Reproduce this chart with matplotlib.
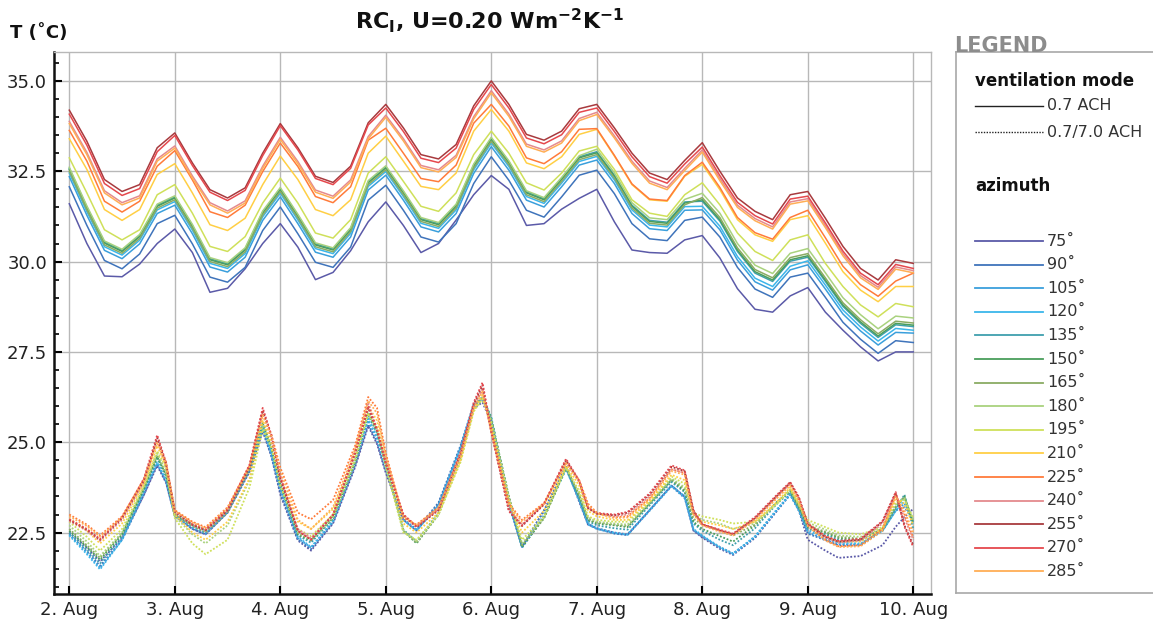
import matplotlib
matplotlib.use('Agg')
import matplotlib.pyplot as plt
from matplotlib.lines import Line2D
from matplotlib.ticker import MultipleLocator, FormatStrFormatter

W, H = 1153, 622

azimuths = [75, 90, 105, 120, 135, 150, 165, 180, 195, 210, 225, 240, 255, 270, 285]
colors = ['#5b5aa8', '#3f74bb', '#3a9fdc', '#3cb6ea', '#3f9fae', '#4a9e5c', '#8aab63',
          '#a9d27e', '#cfe05a', '#ffcf45', '#ff7b3a', '#e48a8e', '#a83a3e', '#e5484d', '#ffae55']
day_labels = ['2. Aug', '3. Aug', '4. Aug', '5. Aug', '6. Aug', '7. Aug', '8. Aug', '9. Aug', '10. Aug']

# hours since 2 Aug 00:00
solid_hours = list(range(0, 193, 4))
dotted_hours = [0, 4, 7, 12, 17, 20, 22, 24, 28, 31, 36, 41, 44, 46,
                48, 52, 55, 60, 65, 68, 70, 72, 76, 79, 84, 89, 92, 94,
                96, 100, 103, 108, 113, 116, 118, 120, 124, 127, 132, 137, 140, 142,
                144, 148, 151, 156, 161, 164, 166, 168, 172, 175, 180, 185, 188, 190, 192]

# ventilation 0.7 ACH (solid)
solid_075 = [31.6, 30.5, 29.6, 29.58, 29.93, 30.5, 30.9, 30.25, 29.15, 29.26, 29.8, 30.5,
             31.05, 30.4, 29.5, 29.7, 30.3, 31.1, 31.65, 31.0, 30.25, 30.5, 31.15, 31.85,
             32.38, 32.0, 31.0, 31.05, 31.45, 31.75, 32.0, 31.1, 30.32, 30.25, 30.23, 30.6,
             30.72, 30.1, 29.25, 28.68, 28.6, 29.05, 29.28, 28.6, 28.1, 27.64, 27.25, 27.5, 27.5]
solid_090 = [32.07, 31.0, 30.03, 29.8, 30.21, 31.05, 31.28, 30.49, 29.57, 29.43, 29.84, 30.86,
             31.51, 30.77, 29.98, 29.84, 30.4, 31.7, 32.11, 31.42, 30.68, 30.54, 31.05, 32.16,
             32.9, 32.25, 31.42, 31.23, 31.79, 32.39, 32.53, 31.88, 31.05, 30.63, 30.58, 31.14,
             31.23, 30.68, 29.84, 29.24, 29.01, 29.57, 29.68, 29.01, 28.32, 27.85, 27.46, 27.81, 27.76]
solid_105 = [32.35, 31.28, 30.31, 30.08, 30.49, 31.33, 31.56, 30.77, 29.85, 29.71, 30.12, 31.14,
             31.79, 31.05, 30.26, 30.12, 30.68, 31.98, 32.39, 31.7, 30.96, 30.82, 31.33, 32.44,
             33.18, 32.53, 31.7, 31.51, 32.07, 32.67, 32.81, 32.16, 31.33, 30.91, 30.86, 31.42,
             31.43, 30.88, 30.04, 29.44, 29.21, 29.77, 29.91, 29.24, 28.55, 28.08, 27.69, 28.04, 28.02]
solid_120 = [32.45, 31.38, 30.41, 30.18, 30.59, 31.43, 31.66, 30.87, 29.95, 29.81, 30.22, 31.24,
             31.89, 31.15, 30.36, 30.22, 30.78, 32.08, 32.49, 31.8, 31.06, 30.92, 31.43, 32.54,
             33.28, 32.63, 31.8, 31.61, 32.17, 32.77, 32.91, 32.26, 31.43, 31.01, 30.96, 31.52,
             31.53, 30.98, 30.14, 29.54, 29.31, 29.87, 30.02, 29.35, 28.66, 28.19, 27.8, 28.15, 28.1]
solid_135 = [32.58, 31.51, 30.54, 30.31, 30.72, 31.56, 31.79, 31.0, 30.08, 29.94, 30.35, 31.37,
             32.02, 31.28, 30.49, 30.35, 30.91, 32.21, 32.62, 31.93, 31.19, 31.05, 31.56, 32.67,
             33.41, 32.76, 31.93, 31.74, 32.3, 32.9, 33.04, 32.39, 31.56, 31.14, 31.09, 31.65,
             31.67, 31.12, 30.28, 29.68, 29.45, 30.01, 30.12, 29.45, 28.76, 28.29, 27.9, 28.25, 28.2]
solid_150 = [32.55, 31.48, 30.51, 30.28, 30.69, 31.53, 31.76, 30.97, 30.05, 29.91, 30.32, 31.34,
             31.99, 31.25, 30.46, 30.32, 30.88, 32.18, 32.59, 31.9, 31.16, 31.02, 31.53, 32.64,
             33.38, 32.73, 31.9, 31.71, 32.27, 32.87, 33.01, 32.36, 31.53, 31.11, 31.06, 31.62,
             31.71, 31.16, 30.32, 29.72, 29.49, 30.05, 30.16, 29.49, 28.8, 28.33, 27.94, 28.29, 28.24]
solid_165 = [32.5, 31.43, 30.46, 30.23, 30.64, 31.48, 31.71, 30.92, 30.0, 29.86, 30.27, 31.29,
             31.94, 31.2, 30.41, 30.27, 30.83, 32.13, 32.54, 31.85, 31.11, 30.97, 31.48, 32.59,
             33.33, 32.68, 31.85, 31.66, 32.22, 32.82, 32.96, 32.31, 31.48, 31.06, 31.01, 31.57,
             31.77, 31.22, 30.38, 29.78, 29.55, 30.11, 30.22, 29.55, 28.86, 28.39, 28.0, 28.35, 28.3]
solid_180 = [32.61, 31.54, 30.57, 30.34, 30.75, 31.59, 31.82, 31.03, 30.11, 29.97, 30.38, 31.4,
             32.05, 31.31, 30.52, 30.38, 30.94, 32.24, 32.65, 31.96, 31.22, 31.08, 31.59, 32.7,
             33.44, 32.79, 31.96, 31.77, 32.33, 32.93, 33.11, 32.46, 31.63, 31.21, 31.16, 31.72,
             31.89, 31.34, 30.5, 29.9, 29.67, 30.23, 30.36, 29.69, 29.0, 28.53, 28.14, 28.49, 28.44]
solid_195 = [32.87, 31.9, 30.88, 30.6, 30.88, 31.85, 32.13, 31.34, 30.42, 30.28, 30.69, 31.62,
             32.31, 31.62, 30.79, 30.65, 31.16, 32.45, 32.9, 32.22, 31.53, 31.39, 31.9, 32.96,
             33.61, 33.0, 32.18, 31.98, 32.45, 33.06, 33.19, 32.55, 31.71, 31.34, 31.25, 31.85,
             32.18, 31.57, 30.79, 30.28, 30.03, 30.6, 30.74, 29.95, 29.31, 28.8, 28.47, 28.84, 28.75]
solid_210 = [33.4, 32.55, 31.44, 31.14, 31.44, 32.41, 32.71, 31.9, 31.02, 30.86, 31.2, 32.13,
             32.92, 32.27, 31.44, 31.27, 31.71, 33.0, 33.47, 32.78, 32.08, 31.99, 32.45, 33.61,
             34.21, 33.61, 32.73, 32.57, 32.9, 33.52, 33.66, 32.92, 32.13, 31.71, 31.67, 32.36,
             32.69, 31.99, 31.16, 30.74, 30.56, 31.16, 31.27, 30.51, 29.72, 29.21, 28.89, 29.31, 29.31]
solid_225 = [33.63, 32.78, 31.67, 31.37, 31.67, 32.64, 33.07, 32.26, 31.38, 31.22, 31.56, 32.49,
             33.28, 32.63, 31.8, 31.63, 32.07, 33.36, 33.69, 33.0, 32.3, 32.21, 32.67, 33.83,
             34.35, 33.75, 32.87, 32.71, 33.04, 33.66, 33.68, 32.94, 32.15, 31.73, 31.69, 32.38,
             32.75, 32.05, 31.22, 30.8, 30.62, 31.22, 31.42, 30.66, 29.87, 29.36, 29.04, 29.46, 29.68]
solid_240 = [33.88, 33.02, 31.96, 31.63, 31.82, 32.84, 33.2, 32.37, 31.63, 31.4, 31.68, 32.64,
             33.44, 32.77, 31.98, 31.81, 32.26, 33.46, 34.05, 33.4, 32.66, 32.54, 32.94, 34.01,
             34.73, 34.08, 33.25, 33.09, 33.34, 33.96, 34.13, 33.48, 32.78, 32.23, 32.05, 32.58,
             33.09, 32.3, 31.56, 31.19, 30.96, 31.65, 31.74, 31.0, 30.22, 29.61, 29.29, 29.85, 29.75]
solid_255 = [34.19, 33.33, 32.27, 31.94, 32.13, 33.15, 33.56, 32.73, 31.99, 31.76, 32.04, 33.0,
             33.82, 33.15, 32.36, 32.19, 32.64, 33.84, 34.35, 33.7, 32.96, 32.84, 33.24, 34.31,
             35.0, 34.35, 33.52, 33.36, 33.61, 34.23, 34.35, 33.7, 33.0, 32.45, 32.27, 32.8,
             33.29, 32.5, 31.76, 31.39, 31.16, 31.85, 31.94, 31.2, 30.42, 29.81, 29.49, 30.05, 29.95]
solid_270 = [34.08, 33.22, 32.16, 31.83, 32.02, 33.04, 33.49, 32.66, 31.92, 31.69, 31.97, 32.93,
             33.76, 33.09, 32.3, 32.13, 32.58, 33.78, 34.25, 33.6, 32.86, 32.74, 33.14, 34.21,
             34.9, 34.25, 33.42, 33.26, 33.51, 34.13, 34.25, 33.6, 32.9, 32.35, 32.17, 32.7,
             33.17, 32.38, 31.64, 31.27, 31.04, 31.73, 31.81, 31.07, 30.29, 29.68, 29.36, 29.92, 29.81]
solid_285 = [33.82, 32.96, 31.9, 31.57, 31.76, 32.78, 33.14, 32.31, 31.57, 31.34, 31.62, 32.58,
             33.38, 32.71, 31.92, 31.75, 32.2, 33.4, 33.99, 33.34, 32.6, 32.48, 32.88, 33.95,
             34.67, 34.02, 33.19, 33.03, 33.28, 33.9, 34.07, 33.42, 32.72, 32.17, 31.99, 32.52,
             33.03, 32.24, 31.5, 31.13, 30.9, 31.59, 31.68, 30.94, 30.16, 29.55, 29.23, 29.79, 29.69]

# ventilation 0.7/7.0 ACH (dotted)
dotted_075 = [22.5, 22.08, 21.7, 22.35, 23.55, 24.35, 23.88, 22.95, 22.6, 22.45, 23.05, 24.18, 25.3, 24.6,
              23.55, 22.28, 22.0, 22.75, 24.3, 25.45, 24.95, 24.15, 22.85, 22.55, 23.3, 24.85, 25.95, 26.1,
              25.55, 23.28, 22.12, 23.1, 24.35, 23.35, 22.72, 22.62, 22.5, 22.45, 23.12, 23.8, 23.48, 22.55,
              22.36, 22.05, 21.88, 22.35, 23.1, 23.55, 23.1, 22.3, 22.0, 21.8, 21.85, 22.15, 22.66, 22.93, 23.16]
dotted_090 = [22.45, 21.98, 21.58, 22.3, 23.55, 24.4, 23.9, 22.96, 22.6, 22.45, 23.06, 24.2, 25.35, 24.6,
              23.6, 22.31, 22.04, 22.78, 24.35, 25.5, 25.0, 24.2, 22.87, 22.59, 23.33, 24.91, 26.05, 26.2,
              25.6, 23.3, 22.1, 23.12, 24.31, 23.39, 22.75, 22.61, 22.47, 22.43, 23.12, 23.8, 23.5, 22.56,
              22.38, 22.1, 21.92, 22.38, 23.12, 23.58, 23.12, 22.47, 22.29, 22.15, 22.15, 22.56, 23.12, 23.2, 22.84]
dotted_105 = [22.45, 21.95, 21.52, 22.3, 23.62, 24.42, 23.92, 22.97, 22.63, 22.48, 23.07, 24.25, 25.4, 24.65,
              23.7, 22.35, 22.08, 22.8, 24.4, 25.6, 25.1, 24.25, 22.85, 22.57, 23.28, 24.85, 26.05, 26.2,
              25.65, 23.35, 22.08, 23.0, 24.28, 23.4, 22.72, 22.6, 22.48, 22.44, 23.1, 23.78, 23.45, 22.58,
              22.4, 22.08, 21.9, 22.38, 23.12, 23.55, 23.1, 22.5, 22.32, 22.18, 22.17, 22.55, 23.1, 23.3, 22.8]
dotted_120 = [22.42, 21.9, 21.48, 22.3, 23.65, 24.45, 23.95, 22.98, 22.65, 22.5, 23.08, 24.28, 25.45, 24.7,
              23.75, 22.38, 22.1, 22.82, 24.45, 25.65, 25.15, 24.3, 22.85, 22.55, 23.25, 24.85, 26.05, 26.25,
              25.7, 23.35, 22.1, 22.95, 24.25, 23.4, 22.75, 22.62, 22.5, 22.45, 23.12, 23.8, 23.5, 22.6,
              22.42, 22.1, 21.92, 22.4, 23.15, 23.55, 23.1, 22.55, 22.38, 22.22, 22.2, 22.55, 23.1, 23.4, 22.75]
dotted_135 = [22.5, 22.02, 21.65, 22.4, 23.7, 24.55, 24.05, 23.0, 22.72, 22.58, 23.12, 24.3, 25.5, 24.8,
              23.85, 22.42, 22.22, 22.88, 24.45, 25.75, 25.25, 24.4, 22.58, 22.25, 23.05, 24.65, 25.95, 26.2,
              25.65, 23.45, 22.1, 22.92, 24.28, 23.45, 22.82, 22.7, 22.62, 22.58, 23.25, 23.9, 23.62, 22.75,
              22.55, 22.3, 22.15, 22.62, 23.3, 23.62, 23.15, 22.6, 22.45, 22.3, 22.27, 22.55, 23.15, 23.55, 22.6]
dotted_150 = [22.55, 22.1, 21.75, 22.45, 23.72, 24.6, 24.1, 23.0, 22.7, 22.55, 23.1, 24.28, 25.55, 24.85,
              23.85, 22.45, 22.28, 22.9, 24.45, 25.8, 25.3, 24.4, 22.55, 22.2, 23.0, 24.6, 25.95, 26.25,
              25.65, 23.5, 22.1, 22.9, 24.3, 23.5, 22.85, 22.75, 22.7, 22.65, 23.3, 23.95, 23.65, 22.8,
              22.6, 22.4, 22.25, 22.7, 23.35, 23.65, 23.2, 22.65, 22.5, 22.35, 22.3, 22.6, 23.2, 23.5, 22.75]
dotted_165 = [22.6, 22.15, 21.8, 22.48, 23.74, 24.65, 24.12, 23.0, 22.68, 22.5, 23.05, 24.25, 25.55, 24.85,
              23.85, 22.48, 22.3, 22.92, 24.45, 25.82, 25.3, 24.4, 22.55, 22.22, 23.0, 24.58, 25.95, 26.25,
              25.62, 23.5, 22.15, 22.9, 24.3, 23.55, 22.88, 22.78, 22.72, 22.68, 23.3, 23.98, 23.7, 22.88,
              22.72, 22.55, 22.42, 22.72, 23.32, 23.68, 23.22, 22.7, 22.52, 22.38, 22.33, 22.6, 23.22, 23.48, 22.8]
dotted_180 = [22.7, 22.25, 21.85, 22.5, 23.75, 24.7, 24.2, 22.95, 22.45, 22.2, 22.7, 23.95, 25.45, 24.85,
              23.8, 22.5, 22.3, 22.92, 24.5, 25.8, 25.35, 24.35, 22.55, 22.25, 23.0, 24.5, 25.9, 26.2,
              25.6, 23.45, 22.2, 22.92, 24.3, 23.6, 22.92, 22.8, 22.75, 22.72, 23.32, 24.0, 23.75, 23.0,
              22.85, 22.75, 22.6, 22.75, 23.3, 23.68, 23.25, 22.78, 22.58, 22.42, 22.38, 22.62, 23.28, 23.45, 22.85]
dotted_195 = [22.8, 22.38, 22.0, 22.6, 23.8, 24.75, 24.3, 22.9, 22.2, 21.9, 22.3, 23.75, 25.35, 24.85,
              23.8, 22.6, 22.4, 23.0, 24.55, 25.8, 25.4, 24.3, 22.5, 22.3, 23.0, 24.45, 25.85, 26.2,
              25.5, 23.4, 22.3, 22.95, 24.3, 23.65, 22.95, 22.85, 22.8, 22.8, 23.35, 24.05, 23.85, 23.05,
              22.95, 22.85, 22.75, 22.8, 23.3, 23.7, 23.3, 22.85, 22.65, 22.5, 22.45, 22.65, 23.35, 23.4, 22.9]
dotted_210 = [22.88, 22.55, 22.2, 22.75, 23.85, 24.9, 24.35, 23.0, 22.5, 22.3, 22.8, 24.0, 25.6, 25.0,
              24.0, 22.8, 22.6, 23.15, 24.65, 26.0, 25.6, 24.5, 22.75, 22.5, 23.05, 24.5, 25.9, 26.3,
              25.4, 23.35, 22.5, 23.1, 24.35, 23.8, 23.1, 22.95, 22.85, 22.85, 23.38, 24.1, 23.95, 23.0,
              22.8, 22.7, 22.6, 22.8, 23.35, 23.75, 23.3, 22.75, 22.4, 22.25, 22.25, 22.6, 23.45, 23.3, 22.7]
dotted_225 = [23.0, 22.72, 22.42, 22.95, 23.98, 25.05, 24.45, 23.12, 22.8, 22.65, 23.2, 24.35, 25.8, 25.2,
              24.3, 23.05, 22.87, 23.4, 24.9, 26.25, 25.95, 24.7, 22.9, 22.72, 23.2, 24.65, 26.0, 26.45,
              25.3, 23.3, 22.85, 23.32, 24.45, 23.95, 23.3, 23.05, 22.92, 22.95, 23.45, 24.25, 24.15, 23.05,
              22.72, 22.55, 22.45, 22.88, 23.48, 23.85, 23.4, 22.7, 22.3, 22.12, 22.15, 22.6, 23.55, 23.0, 22.35]
dotted_240 = [22.82, 22.55, 22.27, 22.85, 23.9, 25.05, 24.35, 23.05, 22.7, 22.55, 23.1, 24.3, 25.8, 25.1,
              24.0, 22.6, 22.35, 23.0, 24.65, 26.1, 25.35, 24.45, 23.0, 22.68, 23.15, 24.65, 26.0, 26.5,
              25.25, 23.15, 22.72, 23.28, 24.45, 23.9, 23.18, 23.02, 22.95, 23.0, 23.5, 24.25, 24.15, 23.05,
              22.72, 22.55, 22.45, 22.88, 23.5, 23.85, 23.42, 22.72, 22.35, 22.22, 22.28, 22.75, 23.55, 22.9, 22.3]
dotted_255 = [22.85, 22.58, 22.3, 22.9, 23.95, 25.12, 24.4, 23.08, 22.72, 22.57, 23.12, 24.33, 25.88, 25.15,
              24.0, 22.55, 22.3, 22.98, 24.7, 25.95, 25.32, 24.4, 22.98, 22.65, 23.12, 24.68, 26.05, 26.58,
              25.3, 23.1, 22.68, 23.28, 24.5, 23.92, 23.18, 23.02, 22.98, 23.05, 23.55, 24.32, 24.2, 23.1,
              22.72, 22.56, 22.45, 22.9, 23.52, 23.88, 23.45, 22.73, 22.38, 22.25, 22.3, 22.8, 23.6, 22.7, 22.15]
dotted_270 = [22.87, 22.6, 22.32, 22.92, 24.0, 25.2, 24.44, 23.1, 22.74, 22.59, 23.15, 24.38, 25.95, 25.19,
              24.07, 22.55, 22.31, 23.0, 24.75, 26.0, 25.37, 24.44, 23.0, 22.66, 23.15, 24.72, 26.1, 26.65,
              25.32, 23.1, 22.7, 23.3, 24.54, 23.94, 23.2, 23.04, 23.0, 23.07, 23.58, 24.36, 24.22, 23.12,
              22.73, 22.58, 22.47, 22.93, 23.55, 23.9, 23.48, 22.75, 22.4, 22.27, 22.33, 22.82, 23.62, 22.66, 22.1]
dotted_285 = [22.95, 22.68, 22.38, 22.92, 23.95, 25.0, 24.4, 23.1, 22.78, 22.62, 23.17, 24.32, 25.75, 25.15,
              24.2, 22.85, 22.6, 23.2, 24.8, 26.15, 25.8, 24.6, 22.95, 22.7, 23.18, 24.62, 25.95, 26.4,
              25.3, 23.25, 22.8, 23.3, 24.42, 23.92, 23.25, 23.03, 22.9, 22.92, 23.42, 24.2, 24.1, 23.0,
              22.7, 22.52, 22.42, 22.85, 23.45, 23.8, 23.38, 22.68, 22.28, 22.1, 22.12, 22.55, 23.5, 23.1, 22.5]

solid_series = [solid_075, solid_090, solid_105, solid_120, solid_135, solid_150, solid_165, solid_180,
                solid_195, solid_210, solid_225, solid_240, solid_255, solid_270, solid_285]
dotted_series = [dotted_075, dotted_090, dotted_105, dotted_120, dotted_135, dotted_150, dotted_165, dotted_180,
                 dotted_195, dotted_210, dotted_225, dotted_240, dotted_255, dotted_270, dotted_285]

DOTS = (0, (1, 1))
GRID = '#b8b8b8'


def px(x, y):
    # pixel position in the 1153x622 picture -> figure fraction
    return x / W, 1 - y / H


fig = plt.figure(figsize=(W / 100, H / 100), dpi=100)
ax = fig.add_axes([54 / W, 1 - 594 / H, (931 - 54) / W, (594 - 52) / H])

solid_days = [h / 24 for h in solid_hours]
dotted_days = [h / 24 for h in dotted_hours]
for vals, c in zip(solid_series, colors):
    ax.plot(solid_days, vals, color=c, lw=1.1, solid_joinstyle='round')
for vals, c in zip(dotted_series, colors):
    ax.plot(dotted_days, vals, color=c, lw=1.3, linestyle=DOTS)

ax.set_xlim(-0.145, 8.168)
ax.set_ylim(20.8, 35.8)
ax.set_xticks(range(len(day_labels)))
ax.set_xticklabels(day_labels)
ax.yaxis.set_major_locator(MultipleLocator(2.5))
ax.yaxis.set_minor_locator(MultipleLocator(0.5))
ax.yaxis.set_major_formatter(FormatStrFormatter('%.1f'))
ax.tick_params(axis='both', which='major', direction='in', length=6, width=1.5,
               labelsize=13, colors='black', labelcolor='#222222')
ax.tick_params(axis='y', which='minor', direction='in', length=3.5, width=1.2)
ax.tick_params(axis='x', pad=5)
ax.tick_params(axis='y', pad=5)
ax.grid(True, which='major', color=GRID, lw=1.0)
ax.set_axisbelow(True)
for side in ['left', 'bottom']:
    ax.spines[side].set_linewidth(1.8)
    ax.spines[side].set_color('#111111')
for side in ['top', 'right']:
    ax.spines[side].set_linewidth(1.0)
    ax.spines[side].set_color(GRID)

# title and axis label
fig.text(*px(490, 21), r'RC$_\mathbf{I}$, U=0.20 Wm$^\mathbf{-2}$K$^\mathbf{-1}$',
         ha='center', va='center', fontsize=16, fontweight='bold', color='#111111')
fig.text(*px(10, 33), 'T (˚C)', ha='left', va='center', fontsize=13, fontweight='bold', color='#111111')

# legend panel drawn by hand
box = '#a8a8a8'
fig.add_artist(Line2D([956 / W, 1.0], [1 - 52 / H] * 2, color=box, lw=1.2))
fig.add_artist(Line2D([956 / W] * 2, [1 - 52 / H, 1 - 593 / H], color=box, lw=1.2))
fig.add_artist(Line2D([956 / W, 1.0], [1 - 593 / H] * 2, color=box, lw=1.2))
fig.text(*px(954, 52), 'LEGEND', ha='left', va='baseline', fontsize=15, fontweight='bold', color='#8c8c8c')

fig.text(*px(975, 81), 'ventilation mode', ha='left', va='center', fontsize=12, fontweight='bold', color='#111111')
fig.add_artist(Line2D([975 / W, 1043 / W], [1 - 106 / H] * 2, color='#222222', lw=1.0))
fig.text(*px(1047, 106), '0.7 ACH', ha='left', va='center', fontsize=11.5, color='#333333')
fig.add_artist(Line2D([975 / W, 1043 / W], [1 - 132 / H] * 2, color='#222222', lw=1.0, linestyle=DOTS))
fig.text(*px(1047, 132), '0.7/7.0 ACH', ha='left', va='center', fontsize=11.5, color='#333333')

fig.text(*px(975, 186), 'azimuth', ha='left', va='center', fontsize=12, fontweight='bold', color='#111111')
for i, (az, c) in enumerate(zip(azimuths, colors)):
    y = 241 + i * 23.6
    fig.add_artist(Line2D([975 / W, 1043 / W], [1 - y / H] * 2, color=c, lw=1.3))
    fig.text(*px(1047, y), f'{az}˚', ha='left', va='center', fontsize=11.5, color='#333333')

fig.savefig('out.png', dpi=100)
plt.close(fig)
